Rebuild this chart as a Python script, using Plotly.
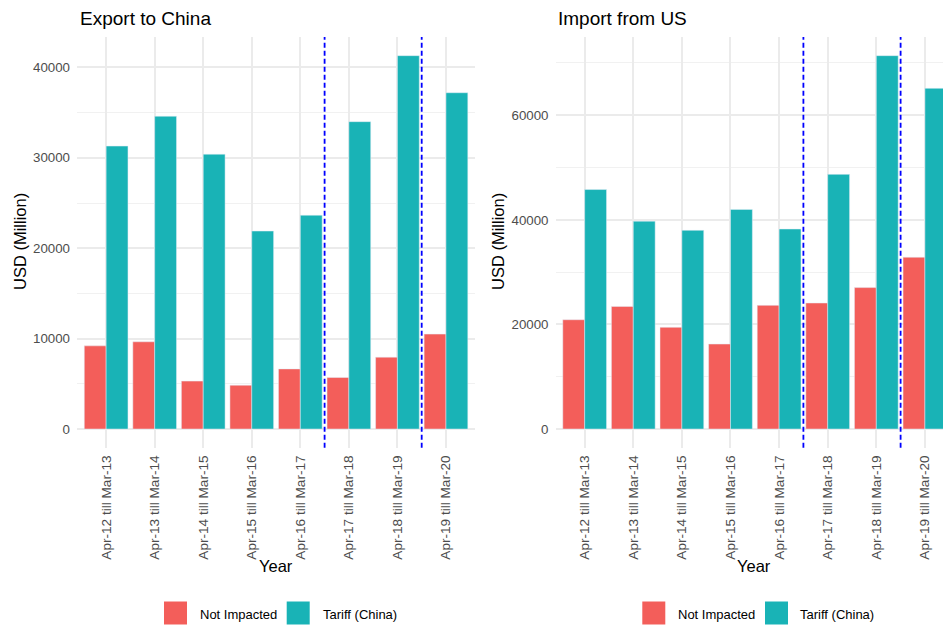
import plotly.graph_objects as go

# ---------------- data ----------------
categories = ["Apr-12 till Mar-13", "Apr-13 till Mar-14", "Apr-14 till Mar-15",
              "Apr-15 till Mar-16", "Apr-16 till Mar-17", "Apr-17 till Mar-18",
              "Apr-18 till Mar-19", "Apr-19 till Mar-20"]
export_not_impacted = [9200, 9650, 5300, 4850, 6650, 5700, 7950, 10500]
export_tariff = [31300, 34600, 30400, 21900, 23650, 34000, 41300, 37200]
import_not_impacted = [20900, 23450, 19450, 16250, 23650, 24100, 27050, 32850]
import_tariff = [45800, 39750, 38000, 42000, 38250, 48700, 71400, 65150]
series_names = ["Not Impacted", "Tariff (China)"]
vline_positions = [4.5, 6.5]
panel_titles = ["Export to China", "Import from US"]

RED = "#F35E5A"
TEAL = "#19B3B6"
W, H = 943, 625
FONT = "Liberation Sans, Arial, sans-serif"

def px_x(p):
    return p / W

def px_y(p):
    return 1 - p / H

fig = go.Figure()

fig.add_trace(go.Bar(x=categories, y=export_not_impacted, name=series_names[0],
                     marker_color=RED, xaxis="x", yaxis="y", showlegend=False))
fig.add_trace(go.Bar(x=categories, y=export_tariff, name=series_names[1],
                     marker_color=TEAL, xaxis="x", yaxis="y", showlegend=False))
fig.add_trace(go.Bar(x=categories, y=import_not_impacted, name=series_names[0],
                     marker_color=RED, xaxis="x2", yaxis="y2", showlegend=False))
fig.add_trace(go.Bar(x=categories, y=import_tariff, name=series_names[1],
                     marker_color=TEAL, xaxis="x2", yaxis="y2", showlegend=False))

left_max = max(export_not_impacted + export_tariff)
right_max = max(import_not_impacted + import_tariff)

ydom = [px_y(447.7), px_y(37)]
tickfont_x = dict(family=FONT, size=13.6, color="#4D4D4D")
tickfont_y = dict(family=FONT, size=13.3, color="#4D4D4D")
GRID = "#EBEBEB"

common_x = dict(type="category", showgrid=True, gridcolor=GRID, gridwidth=1.6,
                tickangle=-90, tickfont=tickfont_x, ticks="", zeroline=False,
                showline=False, ticklabelstandoff=4)
common_y = dict(showgrid=True, gridcolor=GRID, gridwidth=1.6, zeroline=False,
                tickfont=tickfont_y, ticks="", tickformat="d", showline=False,
                ticklabelstandoff=6, domain=ydom)

fig.update_layout(
    width=W, height=H,
    margin=dict(l=0, r=0, t=0, b=0),
    paper_bgcolor="white", plot_bgcolor="white",
    barmode="group", bargap=0.1, bargroupgap=0,
    font=dict(family=FONT),
    xaxis=dict(common_x, domain=[px_x(77), px_x(475.1)], range=[-0.6, 7.6], anchor="y"),
    xaxis2=dict(common_x, domain=[px_x(555.5), 1.0], range=[-0.6, 7.372], anchor="y2"),
    yaxis=dict(common_y, anchor="x", range=[-0.05 * left_max, 1.05 * left_max],
               dtick=10000, minor=dict(dtick=5000, showgrid=True, gridcolor="#F1F1F1", gridwidth=1)),
    yaxis2=dict(common_y, anchor="x2", range=[-0.05 * right_max, 1.05 * right_max],
                dtick=20000, minor=dict(dtick=10000, showgrid=True, gridcolor="#F1F1F1", gridwidth=1)),
)

shapes = []
for xr in ["x", "x2"]:
    yr = "y domain" if xr == "x" else "y2 domain"
    for v in vline_positions:
        shapes.append(dict(type="line", xref=xr, yref=yr, x0=v, x1=v, y0=0, y1=1,
                           line=dict(color="blue", width=1.8, dash="5px,3px")))

annotations = []
title_font = dict(family=FONT, size=19, color="black")
axis_title_font = dict(family=FONT, size=16.5, color="black")
for t, xl in zip(panel_titles, [77.7, 556]):
    annotations.append(dict(text=t, xref="paper", yref="paper", x=px_x(xl), y=px_y(18),
                            xanchor="left", yanchor="middle", showarrow=False, font=title_font))
for xc in [20, 498]:
    annotations.append(dict(text="USD (Million)", xref="paper", yref="paper", x=px_x(xc),
                            y=px_y(242), textangle=-90, xanchor="center", yanchor="middle",
                            showarrow=False, font=axis_title_font))
for xc in [275.5, 754]:
    annotations.append(dict(text="Year", xref="paper", yref="paper", x=px_x(xc), y=px_y(566),
                            xanchor="center", yanchor="middle", showarrow=False, font=axis_title_font))

# manual legends (ggplot-style large keys), one per panel
legend_font = dict(family=FONT, size=13, color="black")
for (k1, t1, k2, t2) in [(164, 197.7, 286.7, 320.7), (642.3, 675.7, 765, 798)]:
    for kx, tx, col, name in [(k1, t1, RED, series_names[0]), (k2, t2, TEAL, series_names[1])]:
        shapes.append(dict(type="rect", xref="paper", yref="paper",
                           x0=px_x(kx), x1=px_x(kx + 23), y0=px_y(624.5), y1=px_y(601.5),
                           fillcolor=col, line=dict(width=0)))
        annotations.append(dict(text=name, xref="paper", yref="paper", x=px_x(tx), y=px_y(614),
                                xanchor="left", yanchor="middle", showarrow=False, font=legend_font))

fig.update_layout(shapes=shapes, annotations=annotations)
fig.write_html("out.html", config={"displayModeBar": False},
               post_script="document.body.style.margin='0';document.body.style.padding='0';")
